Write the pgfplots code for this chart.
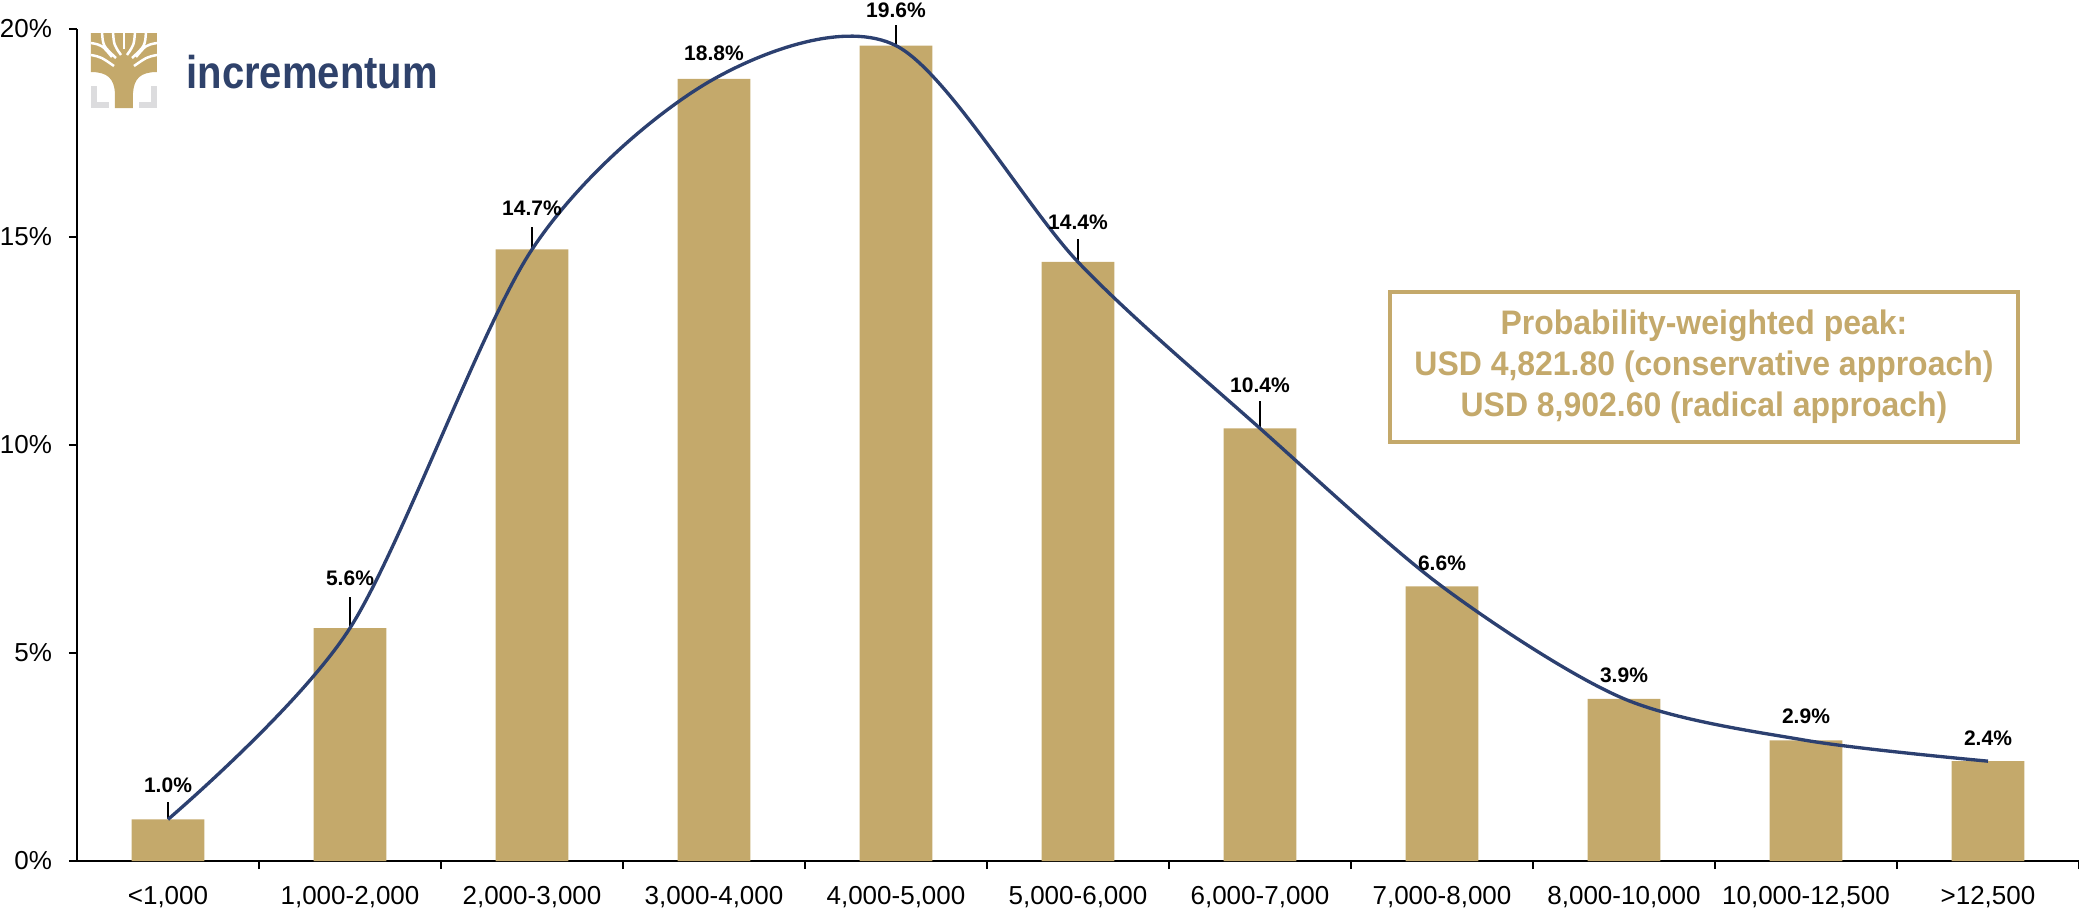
\documentclass[border=0pt]{standalone}
\usepackage{fontspec}
\setmainfont{Liberation Sans}
\newfontfamily\boxfont{Liberation Sans}[FakeStretch=0.94]
\newfontfamily\logofont{Liberation Sans}[FakeStretch=0.87]
\usepackage{pgfplots}
\pgfplotsset{compat=1.18}
\usepackage{pgfplotstable}

\definecolor{gold}{HTML}{C4A96B}
\definecolor{navy}{HTML}{2C4070}
\definecolor{logonavy}{HTML}{2F426B}
\definecolor{bracketgray}{HTML}{DCDCDE}

\tikzset{px/.style={x=0.36pt,y=0.36pt}}

% x = category index, y = probability (%), off = label lift, lead = leader line length
\pgfplotstableread{
x  y     off   lead
0  1.0   0.63  0.43
1  5.6   1.00  0.75
2  14.7  0.80  0.53
3  18.8  0.43  0
4  19.6  0.67  0.50
5  14.4  0.76  0.56
6  10.4  0.84  0.65
7  6.6   0.37  0
8  3.9   0.37  0
9  2.9   0.39  0
10 2.4   0.37  0
}\prob

\begin{document}
\begin{tikzpicture}
\path[px, use as bounding box] (-77,-50) rectangle (2002,861);

\begin{axis}[
    at={(0,0)}, anchor=south west,
    scale only axis, width=720.72pt, height=299.52pt,
    xmin=-0.5, xmax=10.5, ymin=0, ymax=20,
    axis x line=bottom, axis y line=left,
    axis line style={-, line width=0.7pt, black},
    xtick={0,...,10},
    xticklabels={{<1,000},{1,000-2,000},{2,000-3,000},{3,000-4,000},{4,000-5,000},{5,000-6,000},{6,000-7,000},{7,000-8,000},{8,000-10,000},{10,000-12,500},{>12,500}},
    major x tick style={draw=none},
    minor xtick={0.5,1.5,...,10.5},
    ytick={0,5,10,15,20},
    yticklabel={\pgfmathprintnumber{\tick}\%},
    /pgf/number format/assume math mode=true,
    tick align=outside,
    major tick length=2.88pt, minor tick length=2.88pt,
    tick style={black, line width=0.7pt},
    ticklabel style={font=\fontsize{9.36}{11.2}\selectfont},
    yticklabel style={xshift=-2.6pt},
    xticklabel style={yshift=-2.6pt},
    clip=false,
]
\addplot[ybar, bar width=0.4, fill=gold, draw=none] table[x=x, y=y] {\prob};

\addplot[draw=none, mark=none, forget plot,
    error bars/.cd, y dir=plus, y explicit, error mark=none,
    error bar style={black, line width=0.5pt}]
    table[x=x, y=y, y error=lead] {\prob};

\addplot[smooth, tension=0.5, navy, line width=1.2pt, mark=none] table[x=x, y=y] {\prob};

\addplot[draw=none, mark=none, point meta=explicit,
    nodes near coords={\pgfmathprintnumber[fixed, fixed zerofill, precision=1]{\pgfplotspointmeta}\%},
    every node near coord/.style={anchor=south, inner sep=0pt, black,
        font=\bfseries\fontsize{7.56}{9}\selectfont}]
    table[x=x, y expr=\thisrow{y}+\thisrow{off}, meta=y] {\prob};
\end{axis}

\begin{scope}[px]
% logo
\fill[gold] (14,828) -- (80,828) -- (80,789) .. controls (63,789) and (57,782) .. (56,768)
    -- (56,753) -- (38,753) -- (38,768) .. controls (37,782) and (31,789) .. (14,789) -- cycle;
\begin{scope}[white, line width=0.9pt]
\draw (14,818) .. controls (25,816) .. (35,804);
\draw (14,806) .. controls (24,804) .. (37,795);
\draw (80,818) .. controls (69,816) .. (59,804);
\draw (80,806) .. controls (70,804) .. (57,795);
\draw (25,829) .. controls (26,815) .. (39,803);
\draw (36,829) .. controls (37,816) .. (44,806);
\draw (58,829) .. controls (57,816) .. (50,806);
\draw (69,829) .. controls (68,815) .. (55,803);
\draw (47,829) -- (47,812);
\end{scope}
\fill[bracketgray] (14,753) rectangle (20,775);
\fill[bracketgray] (14,753) rectangle (32,759);
\fill[bracketgray] (74,753) rectangle (80,775);
\fill[bracketgray] (62,753) rectangle (80,759);
\node[anchor=base west, inner sep=0pt, text=logonavy,
    font=\logofont\bfseries\fontsize{16.56}{19}\selectfont] at (109,773) {incrementum};

% annotation box
\draw[gold, line width=1.5pt] (1313,419) rectangle (1941,569);
\node[align=center, text=gold, inner sep=0pt,
    font=\boxfont\bfseries\fontsize{12.24}{14.76}\selectfont] at (1627,494)
    {Probability-weighted peak:\\USD 4,821.80 (conservative approach)\\USD 8,902.60 (radical approach)};
\end{scope}
\end{tikzpicture}
\end{document}
